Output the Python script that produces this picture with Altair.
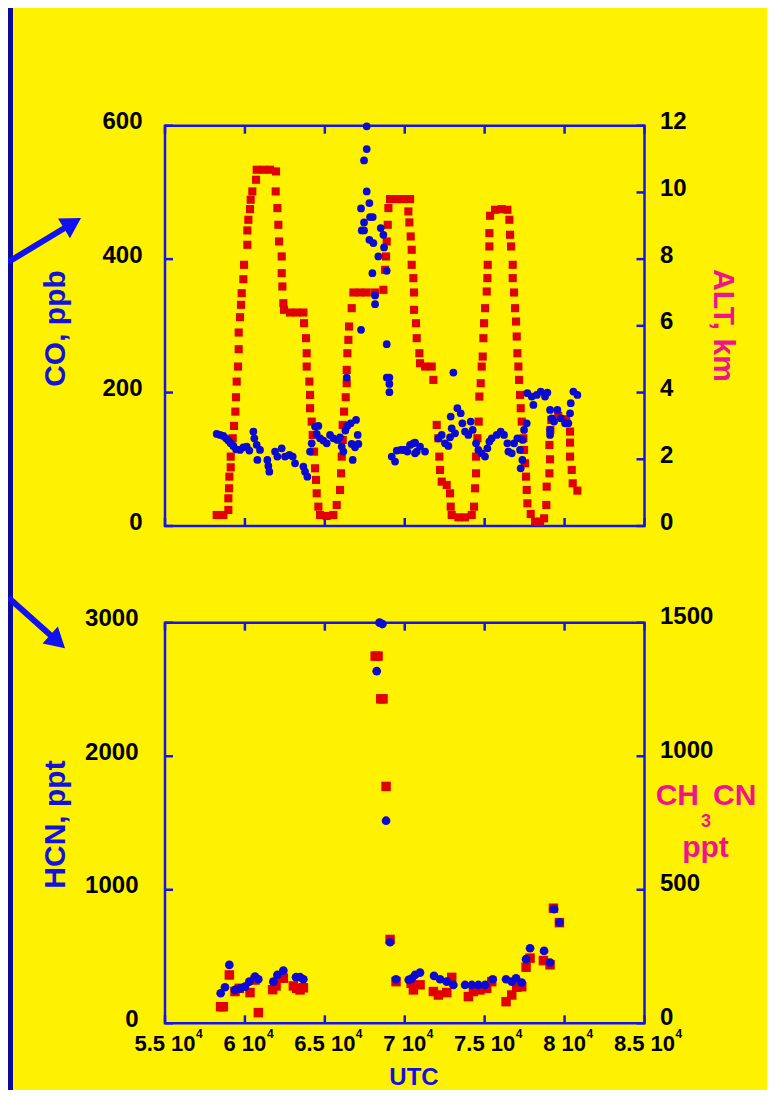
import altair as alt
import pandas as pd

# ---------------- data ----------------
UTC_DOMAIN = [55000, 85000]
UTC_TICKS = [55000, 60000, 65000, 70000, 75000, 80000, 85000]
CO_TICKS = [0, 200, 400, 600]
ALT_TICKS = [0, 2, 4, 6, 8, 10, 12]
HCN_TICKS = [0, 1000, 2000, 3000]
CH3CN_TICKS = [0, 500, 1000, 1500]

ALT_UTC = [58233, 58650, 58963, 58963, 59005, 59026, 59110, 59110, 59235, 59318,
           59402, 59443, 59485, 59568, 59610, 59610, 59693, 59756, 59798, 59902,
           59944, 60152, 60152, 60215, 60319, 60361, 60465, 60695, 60737, 61154,
           61571, 61946, 61925, 62030, 62093, 62134, 62301, 62301, 62343, 62405,
           62447, 62822, 63240, 63657, 63699, 63824, 63865, 63865, 64032, 64074,
           64074, 64178, 64241, 64325, 64387, 64450, 64491, 64596, 64700, 65117,
           65534, 65743, 65951, 66014, 66056, 66118, 66118, 66202, 66306, 66369,
           66369, 66410, 66473, 66515, 66681, 66786, 67203, 67620, 68142, 68663,
           68768, 68830, 68872, 68935, 68977, 69081, 69498, 69916, 70333, 70226,
           70288, 70372, 70434, 70434, 70538, 70580, 70580, 70705, 70747, 70914,
           70956, 71269, 71686, 71790, 71999, 72103, 72166, 72207, 72312, 72624,
           72833, 72875, 72937, 73355, 73772, 74189, 74335, 74397, 74460, 74460,
           74544, 74627, 74669, 74752, 74815, 74877, 74919, 74961, 75023, 75128,
           75169, 75190, 75294, 75294, 75336, 75649, 76066, 76421, 76546, 76588,
           76650, 76755, 76755, 76838, 76901, 76963, 77005, 77047, 77109, 77151,
           77214, 77255, 77318, 77422, 77464, 77526, 77589, 77631, 77673, 77881,
           78152, 78465, 78716, 78860, 78880, 79050, 79090, 79050, 79110, 79170,
           79600, 80100, 80341, 80341, 80341, 80446, 80508, 80800]
ALT_KM = [0.33, 0.33, 0.48, 0.83, 1.13, 1.48, 1.76, 2.08, 2.63, 3.00,
          3.43, 3.86, 4.33, 4.78, 5.30, 5.80, 6.26, 6.63, 6.98, 7.40,
          7.83, 8.43, 8.86, 9.18, 9.50, 9.78, 10.03, 10.38, 10.68, 10.68,
          10.68, 10.63, 10.03, 9.53, 9.03, 8.53, 8.08, 7.58, 7.18, 6.68,
          6.48, 6.40, 6.40, 6.40, 6.08, 5.63, 5.18, 4.78, 4.33, 3.93,
          3.53, 3.13, 2.73, 2.23, 1.73, 1.38, 0.98, 0.58, 0.33, 0.30,
          0.33, 0.63, 1.08, 1.58, 2.08, 2.58, 3.03, 3.43, 3.86, 4.28,
          4.68, 5.18, 5.58, 5.98, 6.53, 7.00, 7.00, 7.00, 7.00, 7.08,
          7.68, 8.08, 8.53, 9.03, 9.53, 9.80, 9.80, 9.80, 9.80, 9.43,
          9.10, 8.68, 8.28, 7.83, 7.43, 7.00, 6.48, 6.08, 5.63, 5.18,
          4.88, 4.78, 4.78, 4.38, 3.03, 2.63, 2.08, 1.68, 1.33, 1.23,
          0.98, 0.58, 0.33, 0.26, 0.26, 0.33, 0.58, 1.13, 1.58, 2.08,
          2.63, 3.13, 3.88, 4.28, 4.78, 5.08, 5.63, 6.08, 6.53, 7.03,
          7.43, 7.83, 8.38, 8.78, 9.30, 9.48, 9.50, 9.48, 9.18, 8.73,
          8.38, 7.83, 7.43, 7.00, 6.53, 6.13, 5.68, 5.18, 4.78, 4.38,
          3.93, 3.53, 3.13, 2.63, 2.28, 1.88, 1.48, 1.08, 0.68, 0.36,
          0.13, 0.13, 0.23, 0.63, 1.18, 1.58, 2.00, 2.43, 2.88, 3.18,
          3.30, 3.20, 2.83, 2.50, 2.08, 1.68, 1.28, 1.06]

CO_UTC = [58233, 58442, 58650, 58817, 58963, 59110, 59276, 59443, 59693, 59902,
          60110, 60277, 60528, 60590, 60737, 60778, 60945, 61404, 61467, 61529,
          61884, 62030, 62301, 62509, 62781, 62989, 63135, 63657, 63761, 63907,
          64074, 64178, 64387, 64491, 64596, 64700, 64908, 65117, 65325, 65534,
          65785, 65951, 66056, 66160, 66285, 66369, 66410, 66618, 66681, 66744,
          66890, 66953, 67057, 67099, 67265, 67265, 67307, 67453, 67453, 67453,
          67620, 67620, 67620, 67787, 67787, 67829, 67975, 67996, 68037, 68142,
          68142, 68350, 68496, 68663, 68705, 68872, 68872, 68872, 69039, 69039,
          69039, 69185, 69393, 69498, 69748, 69913, 70020, 70163, 70333, 70538,
          70643, 70646, 70750, 70956, 71269, 72103, 72312, 72520, 72729, 72833,
          72875, 72937, 73042, 73146, 73292, 73501, 73605, 73772, 73981, 74127,
          74252, 74460, 74606, 74815, 75023, 75169, 75294, 75440, 75753, 76003,
          76212, 76421, 76484, 76692, 76838, 77047, 77214, 77255, 77360, 77380,
          77464, 77631, 77673, 77944, 78048, 78257, 78507, 78778, 78924, 79091,
          79091, 79091, 79195, 79342, 79550, 79759, 80030, 80238, 80343, 80385,
          80551, 80801]
CO_PPB = [138, 136.5, 135, 131.5, 128, 124, 120, 115, 114, 118,
          119, 113, 141.5, 131.5, 121.5, 99, 114, 99, 90, 81.5,
          111.5, 104, 116.5, 104, 106.5, 104, 94, 89, 81.5, 74,
          111.5, 124, 149, 138, 150, 131.5, 128, 124, 136.5, 131.5,
          129, 133, 119, 111.5, 143, 222.5, 150, 154, 123, 99,
          118, 159, 136.5, 123, 294, 476, 443, 455, 443, 548,
          599, 565, 501.5, 484, 429, 463, 379, 463, 424, 345.5,
          332.5, 404, 446.5, 436.5, 417.5, 382.5, 272.5, 222.5, 222.5, 213,
          200.5, 104, 96.5, 113, 114, 114, 114, 111.5, 121.5, 124,
          109, 125, 111.5, 119, 111.5, 131.5, 136.5, 124, 120, 133,
          164, 146.5, 230, 139, 176.5, 169, 154, 141.5, 136.5, 156.5,
          144, 124, 114, 109, 104, 116.5, 126.5, 131.5, 136.5, 141.5,
          136.5, 124, 111.5, 109, 124, 131.5, 114, 86.5, 99, 129,
          144, 154, 199, 194, 181.5, 196.5, 201.5, 194, 200, 174,
          144, 136.5, 161.5, 156.5, 174, 161.5, 154, 154, 169, 184,
          201.5, 196.5]

HCN_UTC = [58483, 58754, 59025, 59380, 59693, 60006, 60277, 60632, 60840, 61779,
           62029, 62405, 63197, 63450, 63657, 68246, 68420, 68600, 68831, 69081,
           69454, 70250, 70430, 70643, 70956, 71832, 72208, 72625, 73042, 73772,
           74190, 74607, 75024, 75504, 76338, 76693, 76964, 77318, 77590, 77840,
           78716, 79091, 79342, 79676]
HCN_PPT = [225, 270, 437, 250, 262, 275, 312, 350, 330, 312,
           362, 395, 345, 345, 330, 2637, 3000, 2990, 1517, 607,
           330, 325, 335, 362, 380, 355, 330, 312, 287, 287,
           287, 287, 287, 330, 330, 312, 337, 305, 480, 562,
           542, 455, 855, 755]

CH3CN_UTC = [58480, 58650, 59025, 59380, 59650, 60319, 60632, 60840, 61737, 61950,
             62196, 62405, 63030, 63240, 63448, 63657, 68150, 68330, 68500, 68640,
             68830, 69081, 69454, 70400, 70541, 70958, 71790, 72104, 72625, 72938,
             73981, 74294, 74711, 75128, 75441, 76338, 76693, 77005, 77318, 77590,
             77840, 78675, 79091, 79300, 79676]
CH3CN_PPT = [62, 62, 181, 119, 131, 115, 162, 40, 126, 140,
             169, 169, 140, 131, 125, 133, 1375, 1375, 1215, 1215,
             887, 314, 156, 150, 125, 144, 119, 106, 115, 172,
             100, 119, 125, 131, 156, 81, 106, 135, 137, 210,
             244, 235, 219, 431, 377]

# ---------------- styling / layout ----------------
FONT = "Liberation Sans"
YELLOW = "#fff200"
NAVY = "#0e0a98"
BLUE_DOT = "#0a0ad2"
FRAME = "#1414ee"
ARROW = "#1010f0"
RED = "#e00000"
PINK = "#f0148c"
TITLE_BLUE = "#1212dc"

W, H = 759, 1082
X_RANGE = [157, 636.5]
TOP_RANGE = [518, 117.7]
BOT_RANGE = [1015.3, 614.7]
PX_TO_UTC = (UTC_DOMAIN[1] - UTC_DOMAIN[0]) / (X_RANGE[1] - X_RANGE[0])
ONE = pd.DataFrame({"k": [0]})


def xscale():
    return alt.Scale(domain=UTC_DOMAIN, range=X_RANGE, nice=False, zero=False)


def yscale(dom, rng):
    return alt.Scale(domain=dom, range=rng, nice=False, zero=False)


def label_axis(orient, offset, values, pad, title, loff=3, **kw):
    return alt.Axis(orient=orient, offset=offset, values=values, format="d", ticks=False,
                    tickSize=0, domain=False, grid=False, labelFont=FONT, labelFontSize=24,
                    labelFontWeight="bold", labelColor="black", labelPadding=pad,
                    labelBaseline="alphabetic", labelOffset=loff, labelFlush=False,
                    labelOverlap=False, title=title, titleFont=FONT, titleFontSize=30,
                    titleFontWeight="bold", **kw)


def frame(ydom, yrng):
    df = pd.DataFrame({"x0": [UTC_DOMAIN[0]], "x1": [UTC_DOMAIN[1]],
                       "y0": [ydom[0]], "y1": [ydom[1]]})
    return alt.Chart(df).mark_rect(fillOpacity=0, stroke=FRAME, strokeWidth=2.5).encode(
        x=alt.X("x0:Q", scale=xscale(), axis=None), x2="x1:Q",
        y=alt.Y("y0:Q", scale=yscale(ydom, yrng), axis=None), y2="y1:Q")


def side_ticks(x_edge, values, ydom, yrng, xoff):
    df = pd.DataFrame({"utc": [x_edge] * len(values), "v": values})
    return alt.Chart(df).mark_tick(orient="horizontal", size=8, thickness=2.5, xOffset=xoff,
                                   color=FRAME, opacity=1).encode(
        x=alt.X("utc:Q", scale=xscale(), axis=None),
        y=alt.Y("v:Q", scale=yscale(ydom, yrng), axis=None))


def edge_ticks(y_edge, ydom, yrng, yoff):
    df = pd.DataFrame({"utc": UTC_TICKS, "v": [y_edge] * len(UTC_TICKS)})
    return alt.Chart(df).mark_tick(orient="vertical", size=8, thickness=2.5, yOffset=yoff,
                                   color=FRAME, opacity=1).encode(
        x=alt.X("utc:Q", scale=xscale(), axis=None),
        y=alt.Y("v:Q", scale=yscale(ydom, yrng), axis=None))


def txt(s, x, y, size, align, color=PINK):
    return alt.Chart(ONE).mark_text(text=s, font=FONT, fontSize=size, fontWeight="bold",
                                    color=color, align=align, baseline="alphabetic").encode(
        x=alt.value(x), y=alt.value(y))


CO_DOM, ALT_DOM = [0, 600], [0, 12]
HCN_DOM, CH3CN_DOM = [0, 3000], [0, 1500]

# decorations
left_border = alt.Chart(ONE).mark_rect(color=NAVY).encode(
    x=alt.value(0), x2=alt.value(5), y=alt.value(0), y2=alt.value(H))
shaft1 = alt.Chart(ONE).mark_rule(color=ARROW, strokeWidth=6).encode(
    x=alt.value(0), y=alt.value(254.2), x2=alt.value(64.5), y2=alt.value(215.2))
head1 = alt.Chart(ONE).mark_point(shape="triangle-up", filled=True, size=529, angle=58.8,
                                  color=ARROW, opacity=1).encode(
    x=alt.value(64.5), y=alt.value(215.2))
shaft2 = alt.Chart(ONE).mark_rule(color=ARROW, strokeWidth=6).encode(
    x=alt.value(0), y=alt.value(589.2), x2=alt.value(49.6), y2=alt.value(633.6))
head2 = alt.Chart(ONE).mark_point(shape="triangle-up", filled=True, size=529, angle=131.9,
                                  color=ARROW, opacity=1).encode(
    x=alt.value(49.6), y=alt.value(633.6))

# x tick labels "5.5 10" + superscript "4", placed through the x scale
tick_df = pd.DataFrame({"utc": UTC_TICKS})
x_labels = alt.Chart(tick_df).transform_calculate(
    lab="datum.utc / 10000 + ' 10'"
).mark_text(font=FONT, fontSize=22, fontWeight="bold", color="black", align="center",
            baseline="alphabetic").encode(
    x=alt.X("utc:Q", scale=xscale(), axis=None), y=alt.value(1043), text="lab:N")
sup_expr = "datum.utc + ((datum.utc % 10000) != 0 ? 31 : 22) * " + str(round(PX_TO_UTC, 4))
x_sup = alt.Chart(tick_df).transform_calculate(
    xs=sup_expr
).mark_text(text="4", font=FONT, fontSize=12, fontWeight="bold", color="black",
            align="left", baseline="alphabetic").encode(
    x=alt.X("xs:Q", scale=xscale(), axis=None), y=alt.value(1030))

# data layers
alt_layer = alt.Chart(pd.DataFrame({"utc": ALT_UTC, "v": ALT_KM})).mark_square(
    size=66, color=RED, opacity=1).encode(
    x=alt.X("utc:Q", scale=xscale(), axis=None),
    y=alt.Y("v:Q", scale=yscale(ALT_DOM, TOP_RANGE),
            axis=label_axis("right", -122.5, ALT_TICKS, 15, "ALT, km", titleColor=PINK,
                            titleAngle=90, titleX=78, titleY=317, titleAlign="center",
                            titleBaseline="middle")))

co_layer = alt.Chart(pd.DataFrame({"utc": CO_UTC, "v": CO_PPB})).mark_circle(
    size=60, color=BLUE_DOT, opacity=1).encode(
    x=alt.X("utc:Q", scale=xscale(), axis=None),
    y=alt.Y("v:Q", scale=yscale(CO_DOM, TOP_RANGE),
            axis=label_axis("left", -157, CO_TICKS, 23, "CO, ppb", titleColor=TITLE_BLUE,
                            titleAngle=270, titleX=-110, titleY=320, titleAlign="center",
                            titleBaseline="middle")))

ch3cn_layer = alt.Chart(pd.DataFrame({"utc": CH3CN_UTC, "v": CH3CN_PPT})).mark_square(
    size=90, color=RED, opacity=1).encode(
    x=alt.X("utc:Q", scale=xscale(), axis=None),
    y=alt.Y("v:Q", scale=yscale(CH3CN_DOM, BOT_RANGE),
            axis=label_axis("right", -122.5, CH3CN_TICKS, 15, "", loff=1)))

hcn_layer = alt.Chart(pd.DataFrame({"utc": HCN_UTC, "v": HCN_PPT})).mark_circle(
    size=76, color=BLUE_DOT, opacity=1).encode(
    x=alt.X("utc:Q", scale=xscale(), axis=None),
    y=alt.Y("v:Q", scale=yscale(HCN_DOM, BOT_RANGE),
            axis=label_axis("left", -157, HCN_TICKS, 27, "HCN, ppt", titleColor=TITLE_BLUE,
                            titleAngle=270, titleX=-110, titleY=816, titleAlign="center",
                            titleBaseline="middle")))

layers = [
    left_border, shaft1, head1, shaft2, head2,
    frame(CO_DOM, TOP_RANGE), frame(HCN_DOM, BOT_RANGE),
    side_ticks(UTC_DOMAIN[0], CO_TICKS, CO_DOM, TOP_RANGE, 4),
    side_ticks(UTC_DOMAIN[1], ALT_TICKS, ALT_DOM, TOP_RANGE, -4),
    edge_ticks(CO_DOM[0], CO_DOM, TOP_RANGE, -4),
    edge_ticks(CO_DOM[1], CO_DOM, TOP_RANGE, 4),
    side_ticks(UTC_DOMAIN[0], HCN_TICKS, HCN_DOM, BOT_RANGE, 4),
    side_ticks(UTC_DOMAIN[1], CH3CN_TICKS, CH3CN_DOM, BOT_RANGE, -4),
    edge_ticks(HCN_DOM[0], HCN_DOM, BOT_RANGE, -4),
    edge_ticks(HCN_DOM[1], HCN_DOM, BOT_RANGE, 4),
    x_labels, x_sup,
    alt_layer, co_layer, ch3cn_layer, hcn_layer,
    txt("UTC", 406, 1077, 24, "center", TITLE_BLUE),
    txt("CH", 691, 797, 30, "right"),
    txt("CN", 705, 797, 30, "left"),
    txt("3", 698, 819, 18, "center"),
    txt("ppt", 697.5, 848.7, 30, "center"),
]

chart = alt.layer(*layers).resolve_scale(y="independent").properties(
    width=W, height=H, background=YELLOW, padding=0,
    autosize=alt.AutoSizeParams(type="none"),
).configure_view(stroke="transparent")

chart.save("out.html", embed_options={"renderer": "svg", "actions": False})
